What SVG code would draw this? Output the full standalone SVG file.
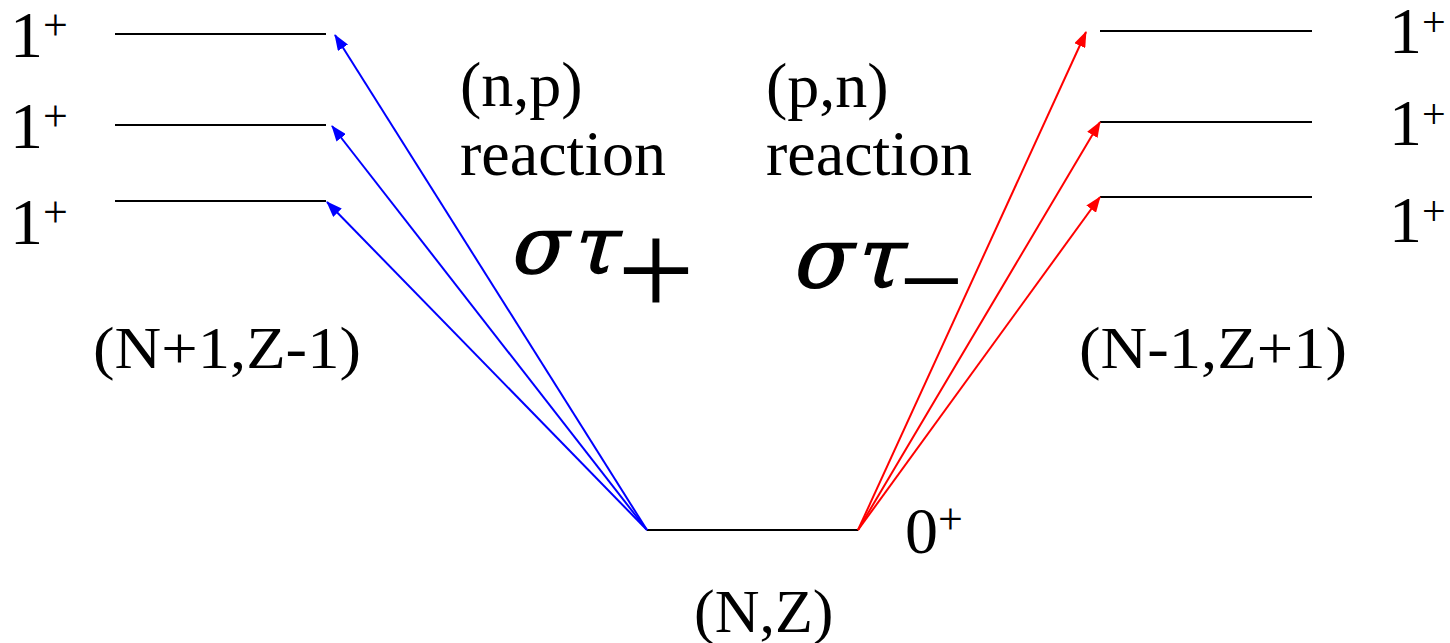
<svg xmlns="http://www.w3.org/2000/svg" width="1450" height="643" viewBox="0 0 1450 643">
<style>
.t{font-family:"Liberation Serif","Times New Roman",serif;fill:#000}
.g{font-family:"DejaVu Serif","Liberation Serif",serif;fill:#000;stroke:#000;stroke-width:1.5}
.lvl{stroke:#000;stroke-width:2;fill:none}
.b{stroke:#0000ff;stroke-width:2;fill:none}
.r{stroke:#ff0000;stroke-width:2;fill:none}
</style>
<defs>
<marker id="ab" viewBox="0 0 16 12" refX="15" refY="6" markerWidth="16" markerHeight="12" markerUnits="userSpaceOnUse" orient="auto"><path d="M0,0 L16,6 L0,12 z" fill="#0000ff"/></marker>
<marker id="ar" viewBox="0 0 16 12" refX="15" refY="6" markerWidth="16" markerHeight="12" markerUnits="userSpaceOnUse" orient="auto"><path d="M0,0 L16,6 L0,12 z" fill="#ff0000"/></marker>
</defs>
<rect width="1450" height="643" fill="#fff"/>
<g id="levels-left">
<line class="lvl" x1="115" y1="34" x2="326" y2="34"/>
<line class="lvl" x1="115" y1="125" x2="326" y2="125"/>
<line class="lvl" x1="115" y1="201" x2="326" y2="201"/>
</g>
<g id="levels-right">
<line class="lvl" x1="1100" y1="31" x2="1312" y2="31"/>
<line class="lvl" x1="1100" y1="122" x2="1312" y2="122"/>
<line class="lvl" x1="1100" y1="197" x2="1312" y2="197"/>
</g>
<g id="ground">
<line class="lvl" x1="647" y1="530" x2="858" y2="530"/>
</g>
<g id="connectors">
<line class="b" x1="647" y1="530" x2="335" y2="35" marker-end="url(#ab)"/>
<line class="b" x1="647" y1="530" x2="332" y2="126" marker-end="url(#ab)"/>
<line class="b" x1="647" y1="530" x2="327" y2="202" marker-end="url(#ab)"/>
<line class="r" x1="858" y1="530" x2="1086" y2="32" marker-end="url(#ar)"/>
<line class="r" x1="858" y1="530" x2="1100" y2="122" marker-end="url(#ar)"/>
<line class="r" x1="858" y1="530" x2="1100" y2="197" marker-end="url(#ar)"/>
</g>
<g id="labels-left">
<text class="t" x="10" y="57" font-size="66">1<tspan font-size="44" dy="-17">+</tspan></text>
<text class="t" x="10" y="148" font-size="66">1<tspan font-size="44" dy="-17">+</tspan></text>
<text class="t" x="10" y="244" font-size="66">1<tspan font-size="44" dy="-17">+</tspan></text>
<text class="t" x="93" y="368" font-size="60" textLength="268" lengthAdjust="spacingAndGlyphs">(N+1,Z-1)</text>
</g>
<g id="labels-right">
<text class="t" x="1389" y="53" font-size="66">1<tspan font-size="42" dy="-17">+</tspan></text>
<text class="t" x="1389" y="145" font-size="66">1<tspan font-size="42" dy="-17">+</tspan></text>
<text class="t" x="1389" y="242" font-size="66">1<tspan font-size="42" dy="-17">+</tspan></text>
<text class="t" x="1079" y="368" font-size="60" textLength="268" lengthAdjust="spacingAndGlyphs">(N-1,Z+1)</text>
</g>
<g id="labels-center">
<text class="t" x="905" y="553" font-size="66">0<tspan font-size="44" dy="-19">+</tspan></text>
<text class="t" x="694" y="632" font-size="62">(N,Z)</text>
<text class="t" x="460" y="106" font-size="64">(n,p)</text>
<text class="t" x="460" y="175" font-size="64">reaction</text>
<text class="t" x="766" y="107" font-size="64">(p,n)</text>
<text class="t" x="766" y="175" font-size="64">reaction</text>
</g>
<g id="operators">
<text class="g" transform="translate(508,273) skewX(-15)" x="0" y="0" font-size="80">σ<tspan x="62">τ</tspan></text>
<text class="t" x="617" y="316" font-size="138">+</text>
<text class="g" transform="translate(790,287) skewX(-15)" x="0" y="0" font-size="84">σ<tspan x="63">τ</tspan></text>
<text class="t" x="899" y="319" font-size="114">−</text>
</g>
</svg>
